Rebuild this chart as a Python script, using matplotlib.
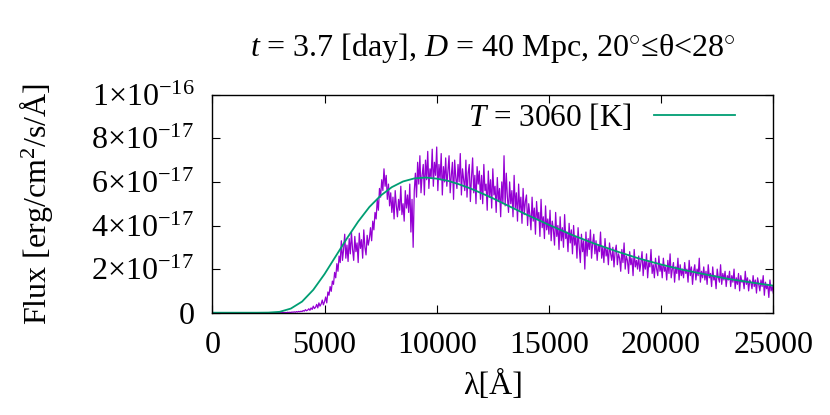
import numpy as np
import matplotlib
matplotlib.use("Agg")
import matplotlib.pyplot as plt

plt.rcParams["font.family"] = ["Liberation Serif", "DejaVu Serif"]
plt.rcParams["mathtext.fontset"] = "custom"
plt.rcParams["mathtext.rm"] = "Liberation Serif"
plt.rcParams["mathtext.it"] = "Liberation Serif:italic"
plt.rcParams["mathtext.bf"] = "Liberation Serif:bold"

# observed spectrum, flux in units of 1e-17 erg/cm^2/s/A, 50 A grid from 3000 A
spec_start = 3000
spec_step = 50
spec_flux = [
    # 3000
    0.00, 0.00, 0.00, 0.01, 0.00, 0.01, 0.00, 0.02, 0.01, 0.02,
    0.01, 0.03, 0.02, 0.04, 0.02, 0.05, 0.03, 0.06, 0.04, 0.07,
    # 4000
    0.05, 0.10, 0.07, 0.14, 0.09, 0.12, 0.18, 0.11, 0.22, 0.15,
    0.30, 0.19, 0.25, 0.38, 0.22, 0.45, 0.30, 0.40, 0.58, 0.36,
    # 5000
    0.50, 0.72, 0.45, 0.95, 0.80, 1.20, 0.98, 1.45, 1.30, 1.85,
    1.60, 2.25, 1.90, 2.60, 2.30, 3.30, 2.40, 2.90, 3.60, 2.50,
    # 6000
    3.10, 2.35, 3.40, 2.70, 3.70, 2.90, 2.40, 3.50, 2.80, 3.20,
    2.30, 3.65, 2.95, 3.35, 2.50, 3.80, 3.00, 2.65, 3.55, 3.10,
    # 7000
    3.40, 3.90, 3.30, 4.20, 3.80, 4.60, 4.30, 5.20, 4.70, 5.70,
    5.30, 6.10, 5.60, 6.60, 5.80, 6.30, 5.20, 5.90, 4.90, 5.50,
    # 8000
    4.60, 5.30, 4.30, 5.60, 4.90, 4.40, 5.20, 4.70, 5.80, 4.50,
    5.00, 4.20, 5.60, 4.80, 5.40, 4.60, 5.90, 3.70, 5.20, 3.00,
    # 9000
    5.60, 6.40, 5.30, 6.90, 5.90, 7.20, 5.50, 6.30, 6.80, 5.40,
    7.00, 6.10, 7.40, 5.70, 6.60, 6.20, 7.50, 5.80, 6.90, 6.30,
    # 10000
    7.60, 5.60, 6.80, 6.10, 7.30, 5.40, 6.70, 6.00, 7.10, 5.80,
    6.50, 7.20, 5.50, 6.30, 6.90, 5.20, 7.00, 6.20, 5.70, 6.80,
    # 11000
    6.00, 7.30, 5.40, 6.60, 6.10, 5.60, 7.00, 5.30, 6.40, 6.80,
    5.10, 6.20, 7.10, 5.50, 6.30, 5.00, 6.70, 5.90, 6.50, 5.20,
    # 12000
    6.30, 5.00, 6.80, 5.60, 5.90, 4.70, 6.50, 5.30, 6.10, 4.80,
    6.60, 5.40, 5.80, 4.60, 6.20, 5.10, 5.70, 4.40, 6.00, 5.00,
    # 13000
    7.20, 4.90, 6.40, 5.30, 4.60, 6.00, 5.00, 5.60, 4.40, 6.30,
    4.80, 5.50, 4.20, 5.90, 4.70, 5.30, 4.10, 5.70, 4.50, 5.10,
    # 14000
    5.40, 4.00, 5.00, 4.50, 3.80, 5.30, 4.20, 4.80, 3.60, 5.10,
    4.30, 4.60, 3.50, 5.20, 3.90, 4.40, 3.40, 4.90, 3.80, 4.30,
    # 15000
    3.60, 4.70, 3.30, 4.20, 3.80, 3.10, 4.60, 3.50, 4.00, 2.90,
    4.40, 3.30, 3.90, 3.00, 4.50, 3.40, 3.70, 2.80, 4.10, 3.20,
    # 16000
    3.80, 2.70, 4.00, 3.10, 3.50, 2.50, 3.90, 3.00, 2.30, 3.60,
    2.80, 3.30, 2.00, 3.70, 2.60, 3.40, 2.90, 3.80, 2.50, 3.20,
    # 17000
    3.60, 2.70, 3.30, 2.40, 3.10, 2.80, 3.70, 2.50, 3.00, 2.30,
    3.40, 2.60, 2.90, 2.20, 3.20, 2.70, 2.40, 3.00, 2.10, 2.80,
    # 18000
    3.10, 2.20, 2.70, 2.50, 1.90, 2.90, 2.30, 3.20, 2.00, 2.60,
    2.40, 1.80, 2.80, 2.20, 2.50, 1.70, 2.90, 2.10, 2.40, 2.00,
    # 19000
    2.60, 1.90, 2.30, 2.80, 1.70, 2.40, 2.00, 2.70, 1.60, 2.30,
    2.10, 2.90, 1.80, 2.20, 1.60, 2.50, 2.00, 1.70, 2.60, 1.90,
    # 20000
    2.20, 1.60, 2.50, 1.90, 2.10, 1.50, 2.40, 1.80, 2.70, 1.60,
    2.00, 2.30, 1.40, 2.10, 1.80, 2.50, 1.50, 2.20, 1.70, 2.00,
    # 21000
    1.60, 2.30, 1.80, 2.00, 1.40, 2.40, 1.70, 2.10, 1.30, 1.90,
    2.20, 1.50, 2.00, 1.70, 2.50, 1.40, 1.90, 1.60, 2.10, 1.50,
    # 22000
    1.90, 1.30, 2.20, 1.60, 1.80, 1.20, 2.10, 1.50, 1.70, 1.10,
    2.00, 1.60, 1.40, 2.20, 1.30, 1.80, 1.50, 1.90, 1.20, 1.70,
    # 23000
    1.50, 1.90, 1.20, 1.70, 1.40, 2.00, 1.10, 1.60, 1.30, 1.80,
    1.00, 1.70, 1.40, 1.50, 1.10, 1.90, 1.30, 1.60, 1.00, 1.50,
    # 24000
    1.40, 1.10, 1.70, 1.20, 1.50, 0.90, 1.60, 1.30, 1.00, 1.50,
    1.20, 1.70, 0.80, 1.40, 1.10, 1.30, 0.70, 1.50, 1.00, 1.20,
    # 25000
    0.90,
]

# blackbody fit T = 3060 K, same units
bb_wave = [0, 2000, 2500, 3000, 3500, 4000, 4500, 5000, 5500, 6000, 6500,
           7000, 7500, 8000, 8500, 9000, 9500, 10000, 10500, 11000, 11500,
           12000, 12500, 13000, 14000, 15000, 16000, 17000, 18000, 19000,
           20000, 21000, 22000, 23000, 24000, 25000]
bb_flux = [0.0, 0.0, 0.005, 0.04, 0.19, 0.51, 1.05, 1.77, 2.59, 3.41, 4.18,
           4.85, 5.37, 5.76, 6.02, 6.16, 6.20, 6.15, 6.05, 5.89, 5.70,
           5.48, 5.25, 5.00, 4.50, 4.03, 3.58, 3.18, 2.82, 2.49,
           2.21, 1.96, 1.75, 1.55, 1.39, 1.24]

xticks = [0, 5000, 10000, 15000, 20000, 25000]
yticks = [0, 2e-17, 4e-17, 6e-17, 8e-17, 1e-16]
ytick_labels = ["0", "2×10$^{-17}$", "4×10$^{-17}$", "6×10$^{-17}$",
                "8×10$^{-17}$", "1×10$^{-16}$"]

spec_wave = spec_start + spec_step * np.arange(len(spec_flux))
spec_wave = np.concatenate([[0], spec_wave])
spec_y = np.concatenate([[0.0], spec_flux]) * 1e-17

fig = plt.figure(figsize=(8.3, 4.15), dpi=100)
ax = fig.add_axes([0.2558, 0.2465, 0.6759, 0.5253])

ax.plot(spec_wave, spec_y, color="#9400D3", lw=0.9)
ax.plot(bb_wave, np.array(bb_flux) * 1e-17, color="#009E73", lw=1.3,
        label="$T$ = 3060 [K]")

ax.set_xlim(0, 25000)
ax.set_ylim(0, 1e-16)
ax.set_xticks(xticks)
ax.set_xticklabels([str(t) for t in xticks])
ax.set_yticks(yticks)
ax.set_yticklabels(ytick_labels)
ax.tick_params(direction="in", length=5.5, width=0.8, top=True, right=True,
               labelsize=23, pad=13)
for s in ax.spines.values():
    s.set_linewidth(1.0)

ax.set_xlabel("λ[Å]", fontsize=23, labelpad=8)
ax.set_ylabel("Flux [erg/cm$^2$/s/Å]", fontsize=23, labelpad=26)
ax.set_title("$t$ = 3.7 [day], $D$ = 40 Mpc, 20$^{\\circ}$≤θ<28$^{\\circ}$",
             fontsize=23, pad=28)

ax.legend(loc="upper right", frameon=False, markerfirst=False, fontsize=22.5,
          handlelength=2.6, handletextpad=0.7, borderaxespad=0, borderpad=0,
          bbox_to_anchor=(0.932, 0.967))

fig.savefig("out.png", dpi=100)
